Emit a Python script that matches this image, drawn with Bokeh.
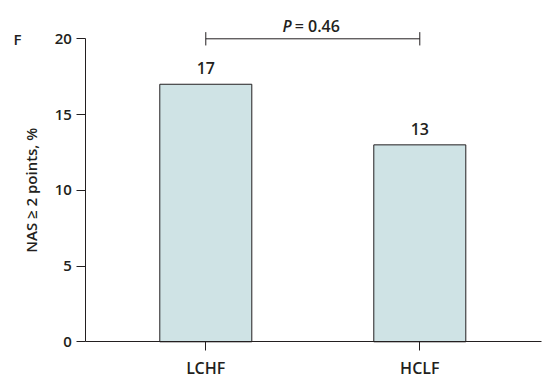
from bokeh.plotting import figure
from bokeh.models import Range1d, FixedTicker, ColumnDataSource
from bokeh.core.properties import value
from bokeh.embed import file_html
from bokeh.resources import INLINE

groups = ["LCHF", "HCLF"]
positions = [1, 2]
percent = [17, 13]
p_symbol = "P"
p_value = "= 0.46"
y_ticks = [0, 5, 10, 15, 20]
y_title = "NAS \u2265 2 points, %"
panel = "F"

INK = "#231f20"
FILL = "#cfe3e5"
FONT = "'Open Sans SemiBold', 'Open Sans'"

W, H = 545, 378
p = figure(width=W, height=H, output_backend="svg", toolbar_location=None,
           x_range=Range1d(0.0407, 2.5874), y_range=Range1d(-2.422, 22.528),
           min_border=0)
p.outline_line_color = None
p.grid.grid_line_color = None

src = ColumnDataSource(dict(x=positions, top=percent, lab=[str(v) for v in percent]))
p.vbar(x="x", top="top", bottom=0, width=0.43, source=src,
       fill_color=FILL, line_color=INK, line_width=1)
p.text(x="x", y="top", text="lab", source=src, text_align="center",
       text_baseline="alphabetic", y_offset=-16,
       text_font=value(FONT), text_font_size="16px", text_color=INK)

# significance bracket
y_br = max(y_ticks)
x_mid = sum(positions) / 2
p.segment(x0=[positions[0]], x1=[positions[1]], y0=[y_br], y1=[y_br], line_color=INK, line_width=1)
p.segment(x0=positions, x1=positions, y0=[y_br - 0.44] * 2, y1=[y_br + 0.44] * 2,
          line_color=INK, line_width=1)
p.text(x=[x_mid], y=[y_br], text=[p_symbol], x_offset=-21, y_offset=-13,
       text_align="right", text_baseline="alphabetic",
       text_font=value(FONT), text_font_size="16px", text_font_style="italic",
       text_color=INK)
p.text(x=[x_mid], y=[y_br], text=[p_value], x_offset=-18, y_offset=-13,
       text_align="left", text_baseline="alphabetic",
       text_font=value(FONT), text_font_size="16px", text_color=INK)

# axes (drawn at fixed data locations)
p.xaxis.fixed_location = 0
p.yaxis.fixed_location = 0.4393
p.xaxis.bounds = (0.4393, 2.5687)
p.xaxis.ticker = FixedTicker(ticks=positions)
p.xaxis.major_label_overrides = {pos: g for pos, g in zip(positions, groups)}
p.yaxis.ticker = FixedTicker(ticks=y_ticks)
p.yaxis.bounds = (min(y_ticks), max(y_ticks))
for ax in (p.xaxis, p.yaxis):
    ax.axis_line_color = INK
    ax.axis_line_width = 1
    ax.major_tick_line_color = INK
    ax.major_tick_line_width = 1
    ax.major_tick_out = 9
    ax.major_tick_in = 0
    ax.minor_tick_line_color = None
    ax.major_label_text_font = FONT
    ax.major_label_text_color = INK
p.xaxis.major_label_text_font_size = "16px"
p.yaxis.major_label_text_font_size = "15px"
p.xaxis.major_label_standoff = 6
p.yaxis.major_label_standoff = 5

# y-axis title and panel letter
p.text(x=[0.1855], y=[(min(y_ticks) + max(y_ticks)) / 2], text=[y_title], angle=90, angle_units="deg",
       text_align="center", text_baseline="middle",
       text_font=value(FONT), text_font_size="15px", text_color=INK)
p.text(x=[0.1014], y=[y_br], text=[panel], text_align="left", text_baseline="middle",
       text_font=value(FONT), text_font_size="15px", text_font_style="bold", text_color=INK)

open("out.html", "w").write(file_html(p, INLINE))
